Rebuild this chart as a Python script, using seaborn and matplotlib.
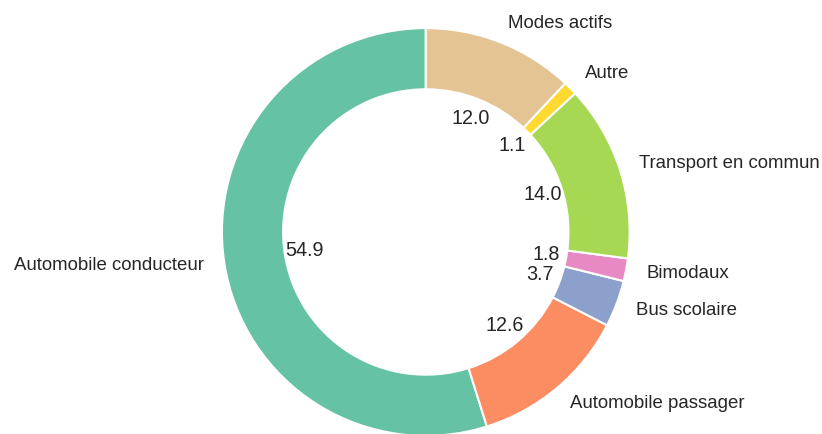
import matplotlib
matplotlib.use("Agg")
import matplotlib.pyplot as plt
import seaborn as sns

# Données : part modale (%)
modes = ["Automobile conducteur", "Automobile passager", "Bus scolaire",
         "Bimodaux", "Transport en commun", "Autre", "Modes actifs"]
parts = [54.9, 12.6, 3.7, 1.8, 14.0, 1.1, 12.0]

sns.set_theme(style="white")
plt.rcParams['font.family'] = ['Liberation Sans', 'DejaVu Sans']

couleurs = sns.color_palette("Set2", len(modes))
total = sum(parts)

fig = plt.figure(figsize=(8.22, 4.34), dpi=100)
ax = fig.add_axes([0.208, -0.122, 0.620, 1.175])

# on affiche la valeur d'origine (la somme fait 100.1)
wedges, textes, pcts = ax.pie(
    parts, labels=modes, colors=couleurs, startangle=90,
    autopct=lambda p: f"{p * total / 100:.1f}", pctdistance=0.6, labeldistance=1.1,
    wedgeprops=dict(width=0.3, edgecolor="white", linewidth=1.5),
    textprops=dict(color="#262626"),
)
for t in textes:
    t.set_fontsize(13.4)
for t in pcts:
    t.set_fontsize(14.2)

ax.set_aspect("equal")

fig.savefig("out.png", dpi=100)
plt.close(fig)
